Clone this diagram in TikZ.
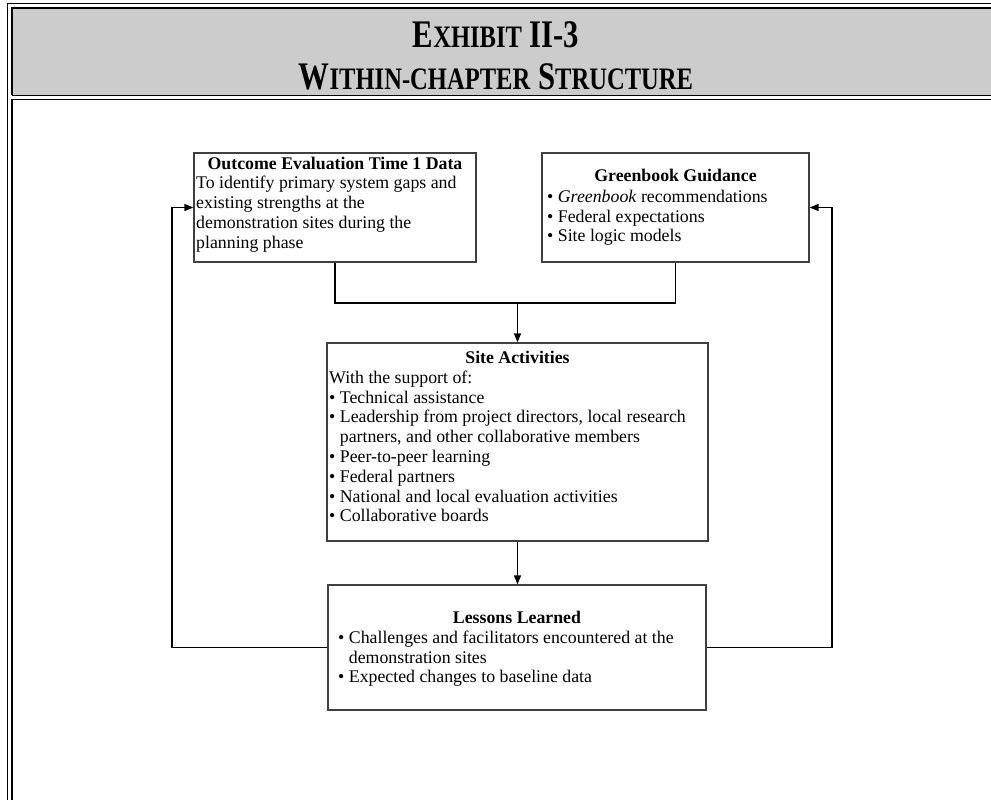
\documentclass[tikz,border=0pt]{standalone}
\usepackage{fontspec}
\usepackage{graphicx}
\setmainfont{Liberation Serif}
\usetikzlibrary{arrows.meta}

% heading letters: full capitals and reduced capitals
\newcommand\hdcap[1]{{\fontsize{32}{36}\selectfont #1}}
\newcommand\hdsmall[1]{{\fontsize{25.6}{36}\selectfont #1}}
\newcommand\hdtext[1]{\scalebox{0.96}[1.22]{\fontsize{32}{36}\selectfont #1}}
\newcommand\firstline{\rule{0pt}{14pt}}
\newcommand\bul{\textbullet\ }

\tikzset{
  frameline/.style={line width=1.6pt, black},
  box/.style={draw=black!75, line width=1.2pt, inner sep=0pt, fill=white},
  body/.style={anchor=north west, inner sep=0pt, align=left,
    font=\fontsize{17.8}{19.8}\selectfont},
  boxtitle/.style={anchor=base, inner sep=0pt,
    font=\fontsize{17.8}{19.8}\selectfont\bfseries},
  heading/.style={anchor=base, inner sep=0pt, font=\bfseries},
  link/.style={line width=1.3pt, black},
  flow/.style={link, -{Triangle[length=9pt,width=7pt]}}
}

\begin{document}
\begin{tikzpicture}[x=1pt, y=-1pt]
\useasboundingbox (0,0) rectangle (991,800);

% heading band and page frame
\fill[black!20] (12,8) rectangle (991,95.5);
\draw[frameline] (7.5,800) -- (7.5,3.5) -- (991,3.5);
\draw[frameline] (12,95.5) -- (12,8) -- (991,8);
\draw[frameline] (12,95.5) -- (991,95.5);
\draw[frameline] (12,800) -- (12,99.5) -- (991,99.5);

\node[heading] (exhibit) at (496,48) {\hdtext{\hdcap{E}\hdsmall{XHIBIT} \hdcap{II-3}}};
\node[heading] (chapter) at (496,89) {\hdtext{\hdcap{W}\hdsmall{ITHIN-CHAPTER} \hdcap{S}\hdsmall{TRUCTURE}}};

% boxes
\node[box, minimum width=282pt, minimum height=109pt] (outcome) at (335,207.5) {};
\node[box, minimum width=267pt, minimum height=109pt] (greenbook) at (675.5,207.5) {};
\node[box, minimum width=381pt, minimum height=198pt] (site) at (517.5,442) {};
\node[box, minimum width=378pt, minimum height=125pt] (lessons) at (517,647.5) {};

% box texts
\node[boxtitle] (outcome-t) at (335,169) {Outcome Evaluation Time 1 Data};
\node[body] (outcome-b) at (196,174.5) {\firstline To identify primary system gaps and\\
existing strengths at the\\
demonstration sites during the\\
planning phase};

\node[boxtitle] (greenbook-t) at (675.5,181) {Greenbook Guidance};
\node[body] (greenbook-b) at (547,188) {\firstline\bul\textit{Greenbook} recommendations\\
\bul Federal expectations\\
\bul Site logic models};

\node[boxtitle] (site-t) at (517.5,363) {Site Activities};
\node[body] (site-b) at (329,369) {\firstline With the support of:\\
\bul Technical assistance\\
\bul Leadership from project directors, local research\\
\phantom{\bul}partners, and other collaborative members\\
\bul Peer-to-peer learning\\
\bul Federal partners\\
\bul National and local evaluation activities\\
\bul Collaborative boards};

\node[boxtitle] (lessons-t) at (517,623) {Lessons Learned};
\node[body] (lessons-b) at (338,629) {\firstline\bul Challenges and facilitators encountered at the\\
\phantom{\bul}demonstration sites\\
\bul Expected changes to baseline data};

% connectors
\coordinate (join) at (517.5,303);
\coordinate (leftrail) at (172,0);
\coordinate (rightrail) at (832,0);

\draw[link] (outcome.south) -- (outcome.south |- join) -- (greenbook.south |- join) -- (greenbook.south);
\draw[flow] (join) -- (site.north);
\draw[flow] (site.south) -- (site.south |- lessons.north);
\draw[flow] (lessons.west) -- (lessons.west -| leftrail) -- (leftrail |- outcome.west) -- (outcome.west);
\draw[flow] (lessons.east) -- (lessons.east -| rightrail) -- (rightrail |- greenbook.east) -- (greenbook.east);
\end{tikzpicture}
\end{document}
